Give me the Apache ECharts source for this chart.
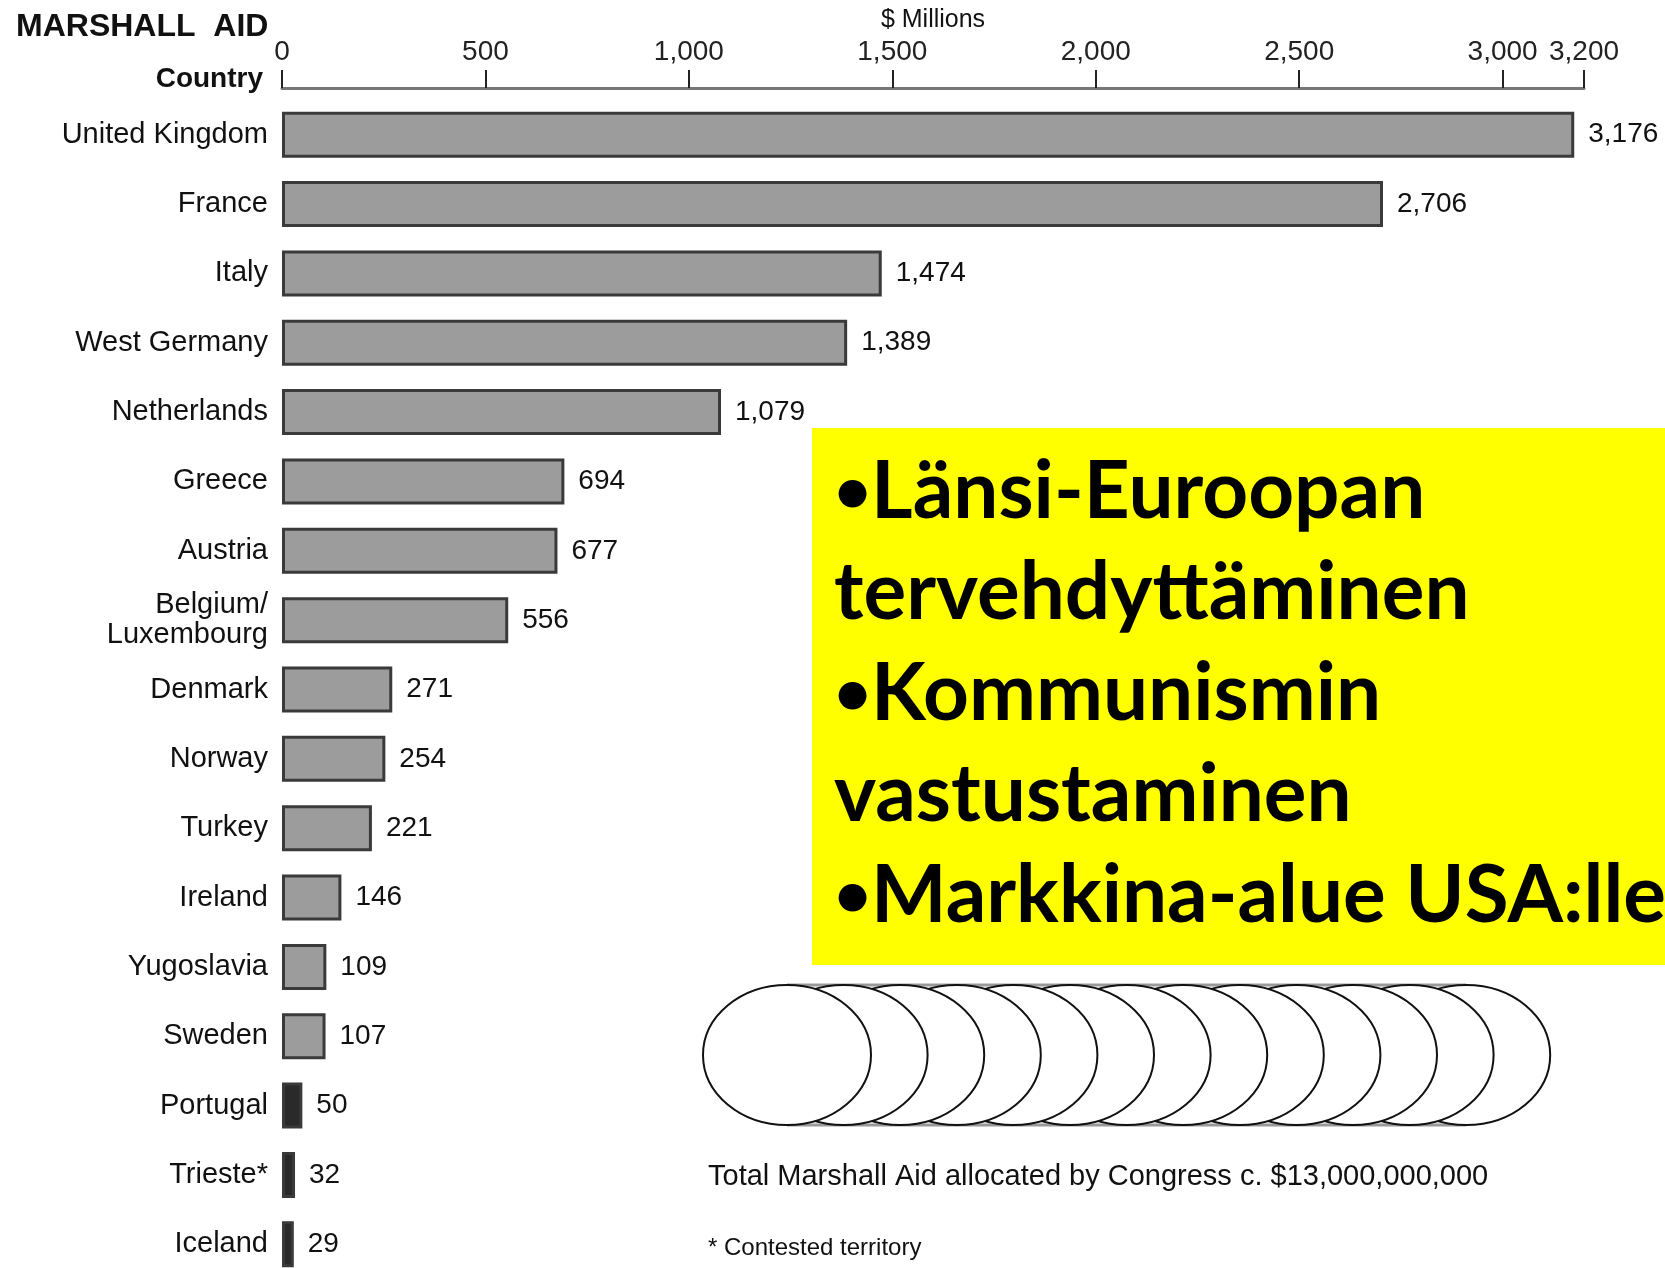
<!DOCTYPE html>
<html>
<head>
<meta charset="utf-8">
<title>Marshall Aid</title>
<script src="https://cdn.jsdelivr.net/npm/echarts@6/dist/echarts.min.js"></script>
<style>
  html, body { margin: 0; padding: 0; background: #fff; }
  #chart { width: 1665px; height: 1268px; }
</style>
</head>
<body>
<div id="chart"></div>
<script>
// data ($ millions)
var countries = [
  "United Kingdom", "France", "Italy", "West Germany", "Netherlands",
  "Greece", "Austria", "Belgium/\nLuxembourg", "Denmark", "Norway",
  "Turkey", "Ireland", "Yugoslavia", "Sweden", "Portugal", "Trieste*", "Iceland"
];
var aid = [3176, 2706, 1474, 1389, 1079, 694, 677, 556, 271, 254, 221, 146, 109, 107, 50, 32, 29];
var axisTicks = [0, 500, 1000, 1500, 2000, 2500, 3000, 3200];
var totalBillions = 13; // one coin per billion
var bullets = [
  "{b|\u2022}L\u00e4nsi-Euroopan",
  "tervehdytt\u00e4minen",
  "{b|\u2022}Kommunismin",
  "vastustaminen",
  "{b|\u2022}Markkina-alue USA:lle"
];

function withCommas(v) {
  return String(v).replace(/\B(?=(\d{3})+(?!\d))/g, ",");
}

var font = "Liberation Sans";
var chart = echarts.init(document.getElementById("chart"));

// coin stack, drawn back to front so the front coin covers the others
var coins = [];
var coinX = 787, coinY = 1055, coinStep = 56.6, rx = 84, ry = 70;
var lastX = coinX + (totalBillions - 1) * coinStep;
coins.push({
  type: "line",
  shape: { x1: coinX, y1: coinY - ry, x2: lastX, y2: coinY - ry },
  style: { stroke: "#999", lineWidth: 3 }
});
coins.push({
  type: "line",
  shape: { x1: coinX, y1: coinY + ry, x2: lastX, y2: coinY + ry },
  style: { stroke: "#999", lineWidth: 3 }
});
for (var i = totalBillions - 1; i >= 0; i--) {
  coins.push({
    type: "ellipse",
    shape: { cx: coinX + i * coinStep, cy: coinY, rx: rx, ry: ry },
    style: { fill: "#fff", stroke: "#111", lineWidth: 2 }
  });
}

var option = {
  backgroundColor: "#fff",
  animation: false,
  textStyle: { fontFamily: font },
  title: [
    {
      text: "MARSHALL  AID",
      left: 11, top: 6,
      textStyle: { fontFamily: font, fontSize: 32, fontWeight: "bold", color: "#111" }
    },
    {
      text: "Country",
      right: 1665 - 268, top: 60,
      textStyle: { fontFamily: font, fontSize: 28, fontWeight: "bold", color: "#111" }
    }
  ],
  grid: {
    left: 282,
    top: 100,
    width: 1302,
    height: 1179,
    containLabel: false,
    outerBoundsMode: "none"
  },
  xAxis: {
    type: "value",
    position: "top",
    offset: 12,
    min: axisTicks[0],
    max: axisTicks[axisTicks.length - 1],
    interval: 500,
    name: "$ Millions",
    nameLocation: "middle",
    nameGap: 52,
    nameTextStyle: { fontFamily: font, fontSize: 25, color: "#111" },
    axisLine: { show: true, lineStyle: { color: "#777", width: 3 } },
    axisTick: { show: true, length: 18, lineStyle: { color: "#222", width: 2 } },
    axisLabel: {
      margin: 22,
      fontSize: 28,
      color: "#222",
      showMaxLabel: true,
      formatter: function (v) { return withCommas(v); }
    },
    splitLine: { show: false }
  },
  yAxis: {
    type: "category",
    inverse: true,
    data: countries,
    axisLine: { show: false },
    axisTick: { show: false },
    axisLabel: {
      margin: 14,
      fontSize: 29,
      color: "#111",
      lineHeight: 30
    }
  },
  series: [
    {
      type: "bar",
      data: aid,
      barWidth: 46,
      itemStyle: {
        color: function (p) { return p.value < 60 ? "#2a2a2a" : "#9c9c9c"; },
        borderColor: "#3a3a3a",
        borderWidth: 3
      },
      label: {
        show: true,
        position: "right",
        distance: 14,
        fontSize: 28,
        color: "#111",
        formatter: function (p) { return withCommas(p.value); }
      }
    }
  ],
  graphic: [
    {
      type: "rect",
      shape: { x: 812, y: 428, width: 853, height: 537 },
      style: { fill: "#ffff00" },
      z: 10
    },
    {
      type: "text",
      x: 834, y: 442,
      z: 11,
      style: {
        text: bullets.join("\n"),
        font: "bold 80px Lato",
        lineHeight: 101,
        fill: "#000",
        verticalAlign: "top",
        rich: {
          b: { font: "bold 64px Lato", fill: "#000", lineHeight: 101 }
        }
      }
    },
    {
      type: "group",
      children: coins
    },
    {
      type: "text",
      x: 708, y: 1177,
      style: {
        text: "Total Marshall Aid allocated by Congress c. $13,000,000,000",
        font: "29px " + font,
        fill: "#111",
        verticalAlign: "middle"
      }
    },
    {
      type: "text",
      x: 708, y: 1248,
      style: {
        text: "* Contested territory",
        font: "24px " + font,
        fill: "#111",
        verticalAlign: "middle"
      }
    }
  ]
};

chart.setOption(option);
</script>
</body>
</html>
